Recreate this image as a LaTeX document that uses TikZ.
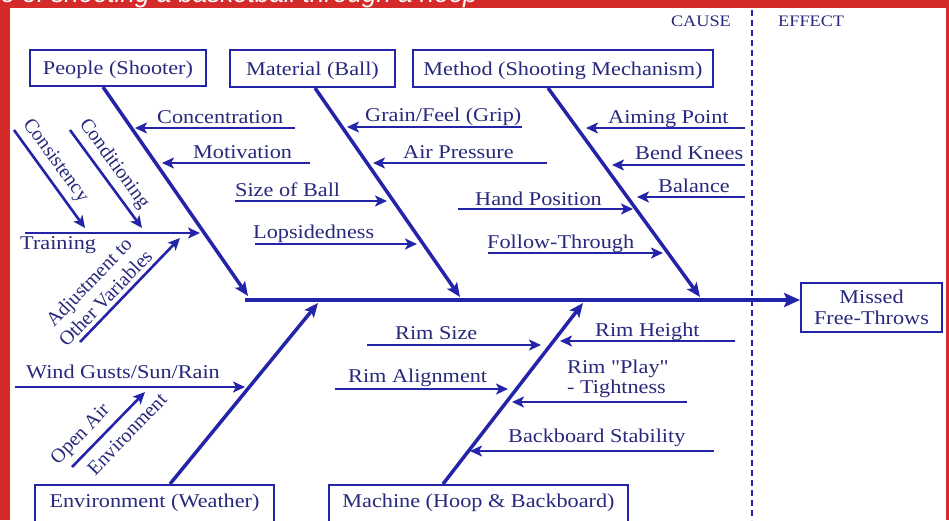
\documentclass[tikz,border=0pt]{standalone}
\usepackage{fontspec}
\setmainfont{Liberation Serif}[FakeStretch=1.14, Ligatures=TeXOff]
\newfontfamily\rotfont{Liberation Serif}[Ligatures=TeXOff]
\newfontfamily\titlefont{Liberation Sans}
\usetikzlibrary{arrows.meta,calc}
\definecolor{bgred}{RGB}{212,42,42}
\definecolor{lnblue}{RGB}{36,36,168}
\definecolor{txblue}{RGB}{40,40,124}
\begin{document}
\begin{tikzpicture}[x=1pt,y=-1pt,
  lbl/.style={text=txblue, font=\fontsize{19.5}{23}\selectfont, inner sep=0pt},
  rlbl/.style={text=txblue, font=\rotfont\fontsize{20}{23}\selectfont, inner sep=0pt},
  small/.style={text=txblue, font=\fontsize{16}{19}\selectfont, inner sep=0pt},
  box/.style={draw=lnblue, line width=1.8pt, text=txblue, font=\fontsize{19.5}{23}\selectfont, inner sep=0pt, text height=13pt, text depth=0pt},
  sub/.style={draw=lnblue, line width=2.6pt, -{Stealth[length=12pt,width=11pt,inset=3pt]}},
  bone/.style={draw=lnblue, line width=3.5pt, -{Stealth[length=14pt,width=12pt,inset=3pt]}},
  spine/.style={draw=lnblue, line width=4.5pt, -{Stealth[length=16pt,width=14pt,inset=3pt]}},
  divider/.style={draw=lnblue, line width=2.5pt, dash pattern=on 6pt off 4pt},
]
\fill[bgred] (0,0) rectangle (949,520);
\fill[white] (10,8) rectangle (946,520);
\useasboundingbox (0,0) rectangle (949,520);

% title (cut off at the top)
\node[anchor=base east, inner sep=0pt, text=white, font=\titlefont\itshape\fontsize{26}{30}\selectfont] (title) at (478,2.5) {e of shooting a basketball through a hoop};

% cause / effect divider
\coordinate (dtop) at (752,10);
\coordinate (dbot) at (752,520);
\draw[divider] (dtop) -- (dbot);
\node[small, anchor=base east] (cause) at (731,26) {CAUSE};
\node[small, anchor=base west] (effect) at (778,26) {EFFECT};

% category boxes
\node[box, minimum width=176pt, minimum height=36pt] (pp) at (118,68) {People (Shooter)};
\node[box, minimum width=165pt, minimum height=37pt] (mat) at (312.5,68.5) {Material (Ball)};
\node[box, minimum width=300pt, minimum height=37pt] (meth) at (563,68.5) {Method (Shooting Mechanism)};
\node[box, anchor=north, minimum width=239pt, text height=15pt, text depth=30pt, inner ysep=8pt] (env) at (154.5,484) {Environment (Weather)};
\node[box, anchor=north, minimum width=299pt, text height=15pt, text depth=30pt, inner ysep=8pt] (mach) at (478.5,484) {Machine (Hoop \& Backboard)};

% effect box
\node[draw=lnblue, line width=1.8pt, minimum width=141pt, minimum height=49pt, inner sep=0pt] (eff) at (871.5,307.5) {};
\node[lbl, anchor=base] (eff1) at (871.5,303) {Missed};
\node[lbl, anchor=base] (eff2) at (871.5,324) {Free-Throws};

% spine
\coordinate (sp0) at (245,300);
\draw[spine] (sp0) -- (sp0 -| eff.west);

% bones
\coordinate (ppA) at (103,87);  \coordinate (ppB) at (248,296);
\coordinate (matA) at (315,88); \coordinate (matB) at (460,297);
\coordinate (meA) at (548,88);  \coordinate (meB) at (700,297);
\coordinate (envA) at (170,484); \coordinate (envB) at (318,303);
\coordinate (maA) at (443,484); \coordinate (maB) at (583,303);
\draw[bone] (ppA) -- (ppB);
\draw[bone] (matA) -- (matB);
\draw[bone] (meA) -- (meB);
\draw[bone] (envA) -- (envB);
\draw[bone] (maA) -- (maB);

% People
\node[lbl, anchor=base west] (conc) at (157,123) {Concentration};
\coordinate (concA) at (295,128); \coordinate (concB) at (135,128);
\draw[sub] (concA) -- (concB);
\node[lbl, anchor=base west] (moti) at (193,158) {Motivation};
\coordinate (motiA) at (310,163); \coordinate (motiB) at (162,163);
\draw[sub] (motiA) -- (motiB);
\node[lbl, anchor=base west] (trai) at (20,249) {Training};
\coordinate (traiA) at (25,233); \coordinate (traiB) at (200,233);
\draw[sub] (traiA) -- (traiB);
\node[rlbl, rotate=-54] (cons) at (55,161) {Consistency};
\coordinate (consA) at (14,130); \coordinate (consB) at (85,228);
\draw[sub] (consA) -- (consB);
\node[rlbl, rotate=-54] (cond) at (114,164) {Conditioning};
\coordinate (condA) at (70,130); \coordinate (condB) at (142,228);
\draw[sub] (condA) -- (condB);
\node[rlbl, rotate=46, align=center] (adj) at (97,290) {Adjustment to\\Other Variables};
\coordinate (adjA) at (80,342); \coordinate (adjB) at (180,238);
\draw[sub] (adjA) -- (adjB);

% Material
\node[lbl, anchor=base west] (grain) at (365,121) {Grain/Feel (Grip)};
\coordinate (grainA) at (522,127); \coordinate (grainB) at (347,127);
\draw[sub] (grainA) -- (grainB);
\node[lbl, anchor=base west] (air) at (403,158) {Air Pressure};
\coordinate (airA) at (547,163); \coordinate (airB) at (373,163);
\draw[sub] (airA) -- (airB);
\node[lbl, anchor=base west] (size) at (235,196) {Size of Ball};
\coordinate (sizeA) at (235,201); \coordinate (sizeB) at (387,201);
\draw[sub] (sizeA) -- (sizeB);
\node[lbl, anchor=base west] (lops) at (253,238) {Lopsidedness};
\coordinate (lopsA) at (255,244); \coordinate (lopsB) at (417,244);
\draw[sub] (lopsA) -- (lopsB);

% Method
\node[lbl, anchor=base west] (aim) at (608,123) {Aiming Point};
\coordinate (aimA) at (745,128); \coordinate (aimB) at (586,128);
\draw[sub] (aimA) -- (aimB);
\node[lbl, anchor=base west] (bend) at (635,159) {Bend Knees};
\coordinate (bendA) at (745,165); \coordinate (bendB) at (612,165);
\draw[sub] (bendA) -- (bendB);
\node[lbl, anchor=base west] (bal) at (658,192) {Balance};
\coordinate (balA) at (745,197); \coordinate (balB) at (637,197);
\draw[sub] (balA) -- (balB);
\node[lbl, anchor=base west] (hand) at (475,205) {Hand Position};
\coordinate (handA) at (458,209); \coordinate (handB) at (633,209);
\draw[sub] (handA) -- (handB);
\node[lbl, anchor=base west] (foll) at (487,248) {Follow-Through};
\coordinate (follA) at (488,253); \coordinate (follB) at (663,253);
\draw[sub] (follA) -- (follB);

% Environment
\node[lbl, anchor=base west] (wind) at (26,378) {Wind Gusts/Sun/Rain};
\coordinate (windA) at (15,387); \coordinate (windB) at (245,387);
\draw[sub] (windA) -- (windB);
\node[rlbl, rotate=46] (open1) at (81,435) {Open Air};
\node[rlbl, rotate=46] (open2) at (127,434) {Environment};
\coordinate (openA) at (72,467); \coordinate (openB) at (145,392);
\draw[sub] (openA) -- (openB);

% Machine
\node[lbl, anchor=base west] (rsize) at (395,339) {Rim Size};
\coordinate (rsizeA) at (367,345); \coordinate (rsizeB) at (541,345);
\draw[sub] (rsizeA) -- (rsizeB);
\node[lbl, anchor=base west] (ralign) at (348,382) {Rim Alignment};
\coordinate (ralignA) at (335,389); \coordinate (ralignB) at (508,389);
\draw[sub] (ralignA) -- (ralignB);
\node[lbl, anchor=base west] (rheight) at (595,336) {Rim Height};
\coordinate (rheightA) at (735,341); \coordinate (rheightB) at (560,341);
\draw[sub] (rheightA) -- (rheightB);
\node[lbl, anchor=base west] (rplay1) at (567,373) {Rim "Play"};
\node[lbl, anchor=base west] (rplay2) at (567,393) {- Tightness};
\coordinate (rplayA) at (687,402); \coordinate (rplayB) at (512,402);
\draw[sub] (rplayA) -- (rplayB);
\node[lbl, anchor=base west] (back) at (508,442) {Backboard Stability};
\coordinate (backA) at (714,451); \coordinate (backB) at (470,451);
\draw[sub] (backA) -- (backB);
\end{tikzpicture}
\end{document}
